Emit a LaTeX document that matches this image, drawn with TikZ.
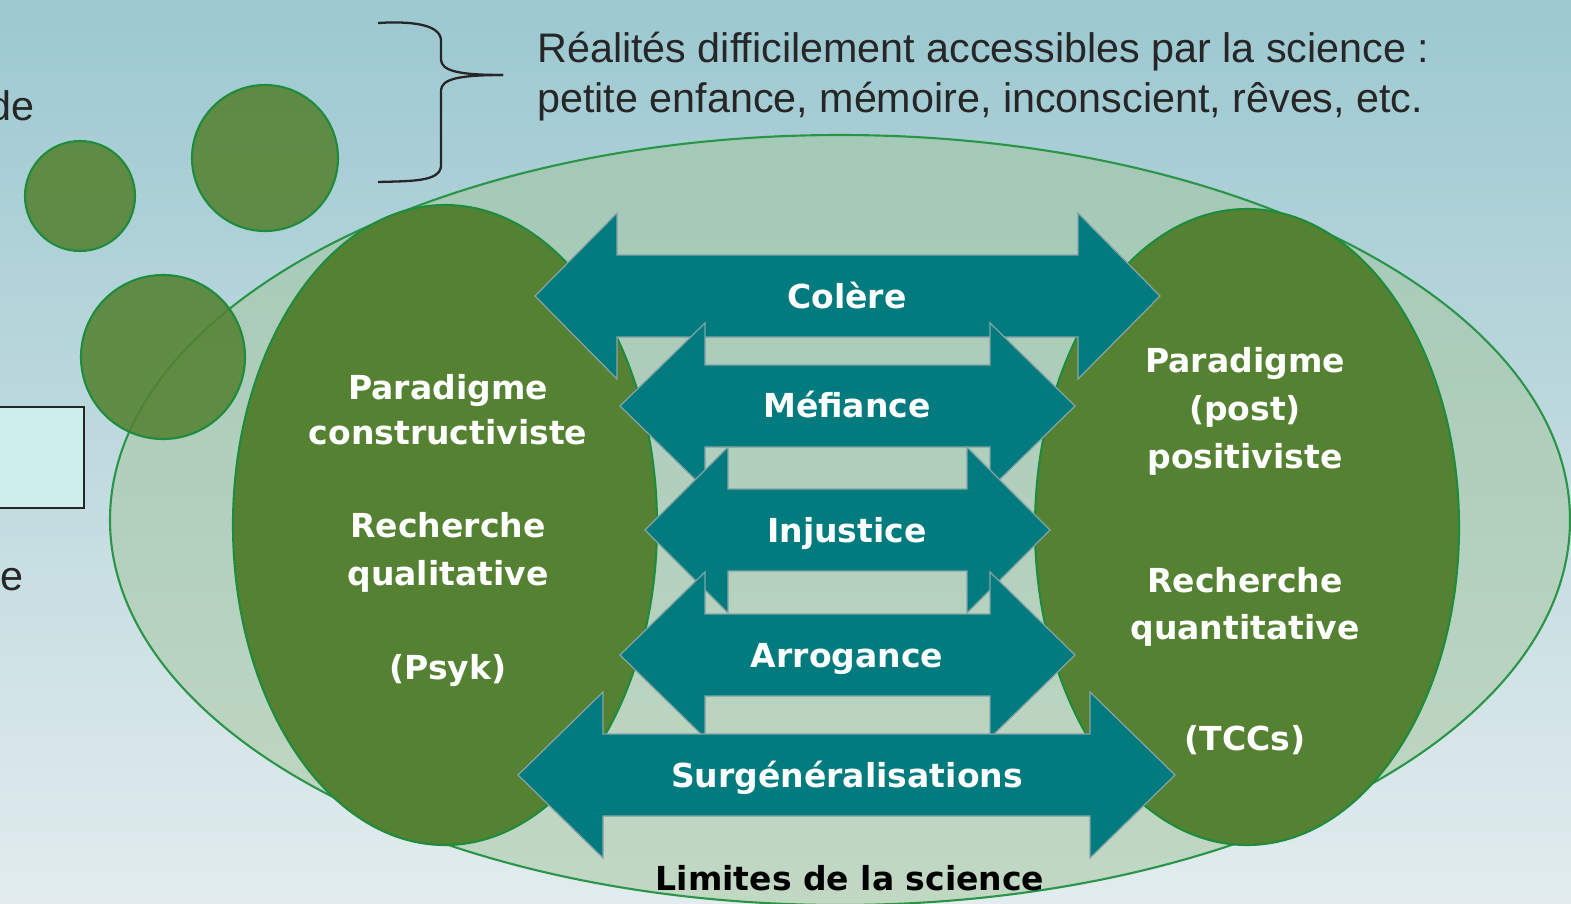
\documentclass[tikz,border=0pt]{standalone}
\usepackage{fontspec}
\setmainfont{Liberation Sans}
\newfontfamily\dvsans{DejaVu Sans}
\definecolor{bgtop}{HTML}{9CC8D0}
\definecolor{bgbot}{HTML}{E2ECEE}
\definecolor{ellfill}{HTML}{A2C59A}
\definecolor{ellline}{HTML}{2A9548}
\definecolor{olive}{HTML}{558232}
\definecolor{oline}{HTML}{1E8C3C}
\definecolor{teal}{HTML}{017B7E}
\definecolor{tealline}{HTML}{86A3A8}
\definecolor{boxfill}{HTML}{CDF0EC}
\tikzset{
  bigell/.style={draw=ellline, line width=1.2pt, fill=ellfill, fill opacity=0.5, draw opacity=1},
  greenell/.style={draw=oline, line width=1.2pt, fill=olive},
  smallcirc/.style={draw=oline, line width=1.2pt, fill=olive, fill opacity=0.88},
  arrowshape/.style={draw=tealline, line width=0.7pt, fill=teal},
  arrowtext/.style={text=white, font=\dvsans\bfseries\fontsize{18.8}{22}\selectfont, inner sep=0pt, text height=13.7pt, text depth=0pt},
  ovaltext/.style={text=white, font=\dvsans\bfseries\fontsize{18.8}{22}\selectfont, inner sep=0pt, text height=13.7pt, text depth=0pt},
  toptext/.style={text=black!85, font=\fontsize{23.5}{28.5}\selectfont, inner sep=0pt, anchor=base west},
}
\newcommand{\dblarrow}[4]{% tipL, tipR, y, headlen
  \path[arrowshape] (#1,#3) -- ++(#4,-83) -- ++(0,42) -- (#2-#4,#3-41) -- ++(0,-42) -- (#2,#3)
    -- (#2-#4,#3+83) -- ++(0,-42) -- (#1+#4,#3+41) -- ++(0,42) -- cycle;
}
\begin{document}
\begin{tikzpicture}[x=0.02cm,y=-0.02cm]
\useasboundingbox (0,0) rectangle (1571,903);
\begin{scope}
\clip (0,0) rectangle (1571,903);
\shade[top color=bgtop, bottom color=bgbot] (0,0) rectangle (1571,903);

% left partial texts and box
\node[toptext, anchor=base east] (de) at (35,120) {de};
\node[toptext, anchor=base east] (e) at (24,590) {e};
\draw[draw=black!85, line width=1.3pt, fill=boxfill] (-20,407) rectangle (84,508);

% big ellipse
\path[bigell] (840,520) ellipse [x radius=730, y radius=385];

% small circles
\path[smallcirc] (80,196) circle [radius=55];
\path[smallcirc] (265,158) circle [radius=73];
\path[smallcirc] (163,357) circle [radius=82];

% green ellipses
\path[greenell] (445,525) ellipse [x radius=212, y radius=320];
\path[greenell] (1247,527) ellipse [x radius=212, y radius=318];

% brace
\draw[line width=1.3pt, black!85] (378,23) .. controls (410,21) and (440,24) .. (441,40)
  -- (441,60) .. controls (442,70) and (455,75) .. (503,75);
\draw[line width=1.3pt, black!85] (503,75) .. controls (455,75) and (442,80) .. (441,90)
  -- (441,166) .. controls (440,182) and (410,181) .. (378,182);

% top text
\node[toptext] (t1) at (537,62) {Réalités difficilement accessibles par la science :};
\node[toptext] (t2) at (537,112) {petite enfance, mémoire, inconscient, rêves, etc.};

% arrows
\dblarrow{535}{1160}{296}{82}
\dblarrow{620}{1075}{406}{85}
\dblarrow{645}{1050}{530}{83}
\dblarrow{620}{1075}{655}{85}
\dblarrow{518}{1175}{775}{85}

\node[arrowtext] (a1) at (847,296) {Colère};
\node[arrowtext] (a2) at (847,405) {Méfiance};
\node[arrowtext] (a3) at (847,530) {Injustice};
\node[arrowtext] (a4) at (847,655) {Arrogance};
\node[arrowtext] (a5) at (847,775) {Surgénéralisations};

% left oval text
\node[ovaltext] (l1) at (448,387) {Paradigme};
\node[ovaltext] (l2) at (448,432) {constructiviste};
\node[ovaltext] (l3) at (448,525) {Recherche};
\node[ovaltext] (l4) at (448,573) {qualitative};
\node[ovaltext] (l5) at (448,667) {(Psyk)};

% right oval text
\node[ovaltext] (r1) at (1245,360) {Paradigme};
\node[ovaltext] (r2) at (1245,408) {(post)};
\node[ovaltext] (r3) at (1245,456) {positiviste};
\node[ovaltext] (r4) at (1245,580) {Recherche};
\node[ovaltext] (r5) at (1245,627) {quantitative};
\node[ovaltext] (r6) at (1245,738) {(TCCs)};

% bottom label
\node[arrowtext, text=black] (lim) at (850,878) {Limites de la science};
\end{scope}
\end{tikzpicture}
\end{document}
